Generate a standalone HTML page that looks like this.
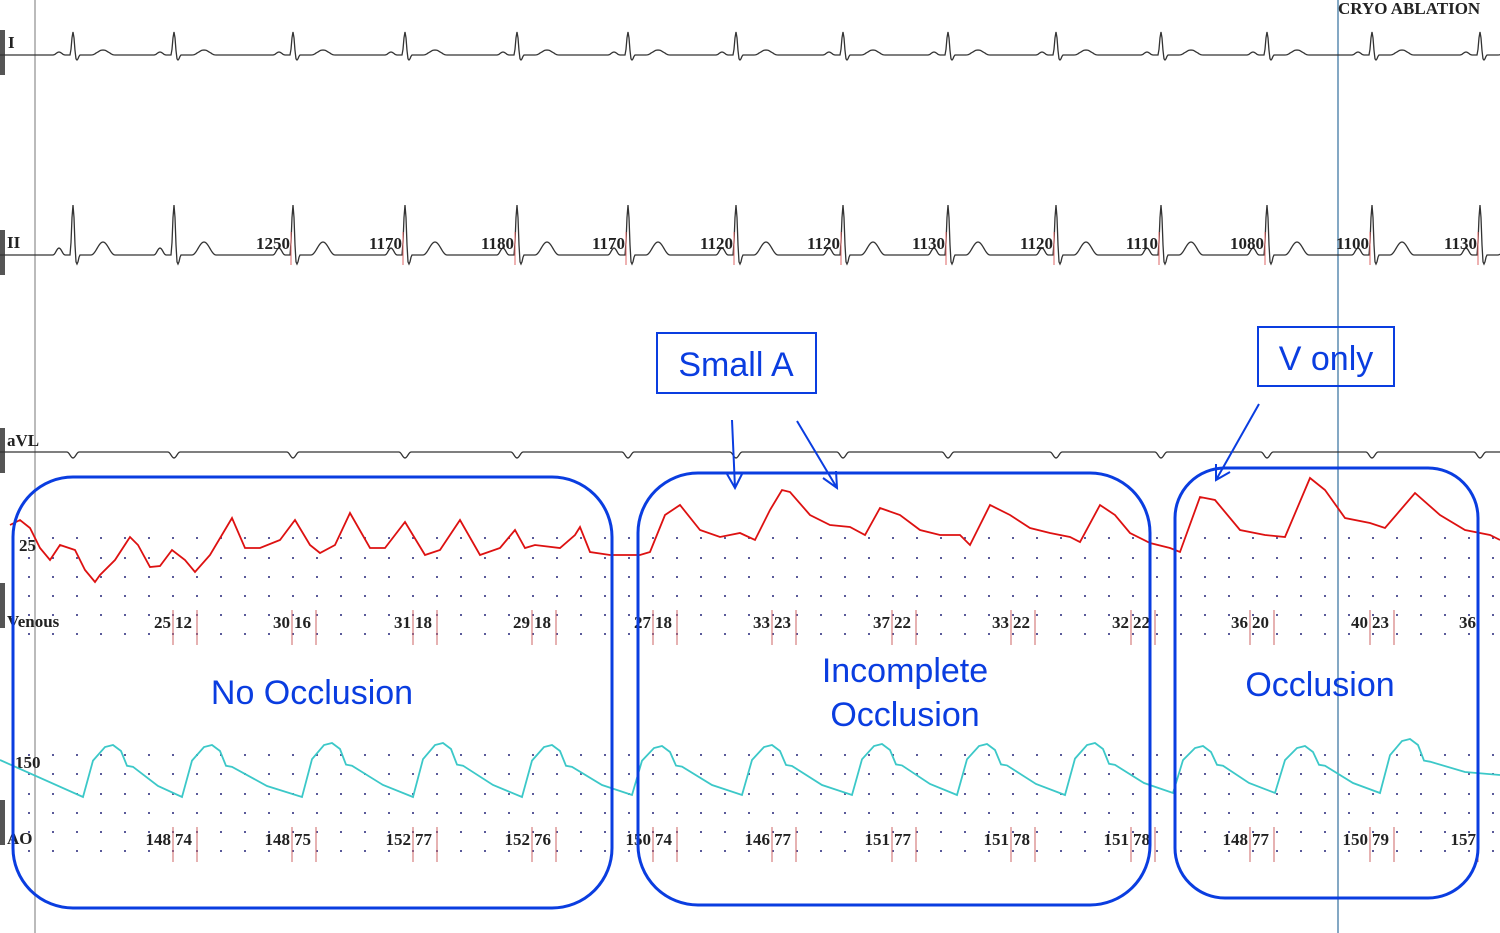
<!DOCTYPE html>
<html><head><meta charset="utf-8"><style>
html,body{margin:0;padding:0;background:#fff;width:1500px;height:933px;overflow:hidden}
svg{display:block}
.lbl{font-family:"Liberation Serif",serif;font-weight:bold;font-size:17px;fill:#222}
.ann{font-family:"Liberation Sans",sans-serif;font-size:34px;fill:#0a3de0}
</style></head><body>
<svg id="chart" width="1500" height="933" viewBox="0 0 1500 933" xmlns="http://www.w3.org/2000/svg">
<g id="grid"></g>
<line x1="35" y1="0" x2="35" y2="933" stroke="#bbb" stroke-width="2"/>
<line x1="1338" y1="0" x2="1338" y2="933" stroke="#5b8bb0" stroke-width="1.5"/>
<text class="lbl" x="1338" y="14" font-size="16">CRYO ABLATION</text>
<g fill="#555">
<rect x="0" y="30" width="5" height="45"/><rect x="0" y="230" width="5" height="45"/><rect x="0" y="428" width="5" height="45"/><rect x="0" y="583" width="5" height="45"/><rect x="0" y="800" width="5" height="45"/>
</g>
<text class="lbl" x="8" y="48">I</text>
<text class="lbl" x="7" y="248">II</text>
<text class="lbl" x="7" y="446">aVL</text>
<text class="lbl" x="19" y="551">25</text>
<text class="lbl" x="7" y="627">Venous</text>
<text class="lbl" x="15" y="768">150</text>
<text class="lbl" x="7" y="844">AO</text>
<g id="traces"></g>
<g id="labels"></g>
<g fill="none" stroke="#0a3de0" stroke-width="3">
<rect x="13" y="477" width="599" height="431" rx="60"/>
<rect x="638" y="473" width="512" height="432" rx="60"/>
<rect x="1175" y="468" width="303" height="430" rx="50"/>
<rect x="657" y="333" width="159" height="60" stroke-width="2"/>
<rect x="1258" y="327" width="136" height="59" stroke-width="2"/>
<g stroke-width="2">
<path d="M732 420 L735 488 M727 474 L735 488 L742 474"/>
<path d="M797 421 L837 488 M823 478 L837 488 L836 471"/>
<path d="M1259 404 L1216 480 M1216 464 L1216 480 L1230 472"/>
</g>
</g>
<text class="ann" x="736" y="376" text-anchor="middle">Small A</text>
<text class="ann" x="1326" y="370" text-anchor="middle">V only</text>
<text class="ann" x="312" y="704" text-anchor="middle">No Occlusion</text>
<text class="ann" x="905" y="682" text-anchor="middle">Incomplete</text>
<text class="ann" x="905" y="726" text-anchor="middle">Occlusion</text>
<text class="ann" x="1320" y="696" text-anchor="middle">Occlusion</text>
</svg>
<script>
const rPeaks=[73,174,293,405,517,628,736,843,948,1056,1161,1267,1372,1480];
const rrValues=[null,null,1250,1170,1180,1170,1120,1120,1130,1120,1110,1080,1100,1130];
const venousPairs=[[25,12],[30,16],[31,18],[29,18],[27,18],[33,23],[37,22],[33,22],[32,22],[36,20],[40,23],[36,""]];
const aoPairs=[[148,74],[148,75],[152,77],[152,76],[150,74],[146,77],[151,77],[151,78],[151,78],[148,77],[150,79],[157,""]];
const pairX=[173,292,413,532,653,772,892,1011,1131,1250,1370,1478];
const venousX=[10,20,30,40,50,60,75,85,95,100,115,130,138,150,160,172,185,195,210,232,245,260,280,295,310,320,335,350,370,385,405,425,440,460,480,500,515,525,535,560,575,580,590,610,625,640,650,665,680,700,720,740,755,770,782,790,810,830,850,865,880,900,920,940,960,970,990,1010,1030,1050,1070,1080,1100,1115,1130,1150,1170,1180,1200,1215,1240,1265,1285,1310,1325,1345,1370,1385,1415,1440,1465,1490,1500];
const venousY=[525,520,528,548,560,545,550,570,582,575,560,537,545,567,566,550,560,572,555,518,548,548,540,520,545,553,545,513,548,548,522,555,550,520,555,548,530,548,545,548,535,527,552,555,555,555,552,515,505,530,537,533,540,510,490,492,515,525,527,535,508,515,530,535,535,545,505,515,528,533,537,542,505,515,533,543,548,552,497,500,530,535,537,478,490,518,523,528,493,515,530,535,540];
const aoPeaks=[113,212,332,443,552,662,772,882,987,1095,1203,1305,1410];
const aoPeakY=[745,745,743,743,745,746,745,744,744,743,746,746,739];
const aoTroughY=[797,797,797,797,797,795,795,795,795,795,793,793,793];

const NS="http://www.w3.org/2000/svg";
const traces=document.getElementById('traces'), labels=document.getElementById('labels'), grid=document.getElementById('grid');
function mk(tag,attrs,parent){const e=document.createElementNS(NS,tag);for(const k in attrs)e.setAttribute(k,attrs[k]);parent.appendChild(e);return e;}
// dot grid
const rowsY=[537,557,576,595,614,633,754,773,793,812,831,850];
for(const y of rowsY){for(let x=28;x<1500;x+=24){const d=mk('rect',{x:x,y:y,width:2,height:2,fill:'#5a5a9a'},grid);}}
function bump(x,c,w,h){const t=(x-c)/w;return Math.abs(t)<1?h*(1+Math.cos(Math.PI*t))/2:0;}
function ecg(y0,rH,sH,pH,tH,dip){let pts=[];for(let x=0;x<=1500;x+=1){let y=y0;for(const r of rPeaks){if(dip){y+=bump(x,r,6,dip);continue;}y-=bump(x,r-14,6,pH);y-=bump(x,r,3,rH);y+=bump(x,r+4,3,sH);y-=bump(x,r+30,12,tH);}pts.push(x+','+y.toFixed(1));}return 'M'+pts.join(' L');}
const l1=mk('path',{d:ecg(55,23,5,3,5,0),fill:'none',stroke:'#333','stroke-width':1.3},traces);


const l2=mk('path',{d:ecg(255,50,9,7,13,0),fill:'none',stroke:'#333','stroke-width':1.3},traces);


const l3=mk('path',{d:ecg(452,0,0,0,0,6),fill:'none',stroke:'#333','stroke-width':1.3},traces);


// venous
let vp=[];for(let i=0;i<venousX.length;i++){vp.push(venousX[i]+','+venousY[i]);}
const ven=mk('path',{d:'M'+vp.join(' L'),fill:'none',stroke:'#dd1111','stroke-width':1.8},traces);


// aortic
let ap=['0,760'];
for(let i=0;i<aoPeaks.length;i++){const p=aoPeaks[i],pk=aoPeakY[i],tr=aoTroughY[i];const amp=tr-pk;
ap.push((p-30)+','+tr);ap.push((p-20)+','+(tr-amp*0.7));ap.push((p-8)+','+(pk+2));ap.push(p+','+pk);ap.push((p+8)+','+(pk+6));ap.push((p+14)+','+(pk+amp*0.4));ap.push((p+20)+','+(pk+amp*0.42));
const nx=i+1<aoPeaks.length?aoPeaks[i+1]-30:1500;const ny=i+1<aoPeaks.length?aoTroughY[i+1]:775;ap.push(((p+20+nx)/2).toFixed(0)+','+((pk+amp*0.42+ny)/2+4).toFixed(0));ap.push(nx+','+ny);}
const ao=mk('path',{d:'M'+ap.join(' L'),fill:'none',stroke:'#3cc8c8','stroke-width':1.8},traces);


// RR labels
for(let i=0;i<rPeaks.length;i++){if(rrValues[i]==null)continue;const r=rPeaks[i];
const t=mk('text',{x:r-3,y:249,'text-anchor':'end',class:'lbl'},labels);t.textContent=rrValues[i];


mk('line',{x1:r-2,y1:232,x2:r-2,y2:265,stroke:'#d66','stroke-width':1},labels);}
function pairs(arr,y,nm){for(let i=0;i<arr.length;i++){const x=pairX[i];
const a=mk('text',{x:x-2,y:y,'text-anchor':'end',class:'lbl'},labels);a.textContent=arr[i][0];


const b=mk('text',{x:x+2,y:y,class:'lbl'},labels);b.textContent=arr[i][1];


mk('line',{x1:x,y1:y-18,x2:x,y2:y+17,stroke:'#c66','stroke-width':1},labels);
mk('line',{x1:x+24,y1:y-18,x2:x+24,y2:y+17,stroke:'#c66','stroke-width':1},labels);}}
pairs(venousPairs,628,'venous-value');
pairs(aoPairs,845,'ao-value');
</script>
</body></html>
